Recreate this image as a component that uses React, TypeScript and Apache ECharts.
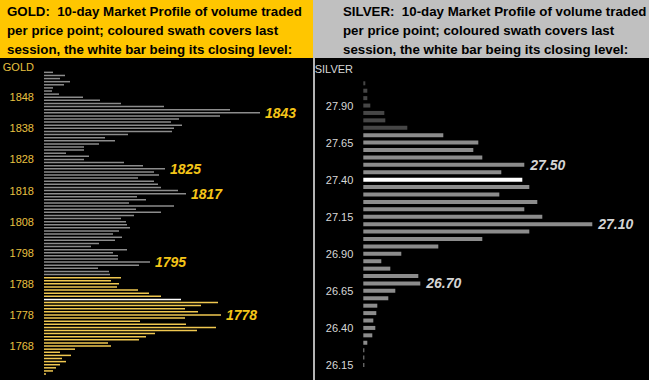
import React, { useEffect, useRef } from "react";
import * as echarts from "echarts";

// ---- GOLD (top to bottom) ----
const goldPrices = [
  "1856", "1855", "1854", "1853", "1852", "1851", "1850", "1849", "1848", "1847",
  "1846", "1845", "1844", "1843", "1842", "1841", "1840", "1839", "1838", "1837",
  "1836", "1835", "1834", "1833", "1832", "1831", "1830", "1829", "1828", "1827",
  "1826", "1825", "1824", "1823", "1822", "1821", "1820", "1819", "1818", "1817",
  "1816", "1815", "1814", "1813", "1812", "1811", "1810", "1809", "1808", "1807",
  "1806", "1805", "1804", "1803", "1802", "1801", "1800", "1799", "1798", "1797",
  "1796", "1795", "1794", "1793", "1792", "1791", "1790", "1789", "1788", "1787",
  "1786", "1785", "1784", "1783", "1782", "1781", "1780", "1779", "1778", "1777",
  "1776", "1775", "1774", "1773", "1772", "1771", "1770", "1769", "1768", "1767",
  "1766", "1765", "1764", "1763", "1762", "1761", "1760", "1759",
];
const goldVolume = [
  9, 21, 16, 26, 20, 9, 8, 15, 39, 56,
  77, 120, 186, 216, 176, 135, 127, 138, 130, 128,
  84, 61, 71, 55, 40, 40, 22, 45, 40, 80,
  99, 121, 110, 115, 94, 110, 114, 117, 134, 142,
  93, 102, 85, 130, 92, 117, 90, 77, 82, 83,
  86, 75, 69, 78, 71, 55, 47, 83, 69, 74,
  74, 106, 95, 54, 65, 66, 77, 67, 75, 73,
  94, 105, 117, 137, 174, 157, 141, 154, 177, 141,
  96, 142, 172, 153, 111, 102, 95, 64, 67, 31,
  16, 27, 18, 22, 16, 12, 9, 2,
];
const goldLabeled = ["1843", "1825", "1817", "1795", "1778"];
const goldSessionTop = 1790; // coloured swath: this price and below
const goldClose = "1783";

// ---- SILVER (top to bottom) ----
const silverPrices = [
  "28.05", "28.00", "27.95", "27.90", "27.85", "27.80", "27.75", "27.70", "27.65", "27.60",
  "27.55", "27.50", "27.45", "27.40", "27.35", "27.30", "27.25", "27.20", "27.15", "27.10",
  "27.05", "27.00", "26.95", "26.90", "26.85", "26.80", "26.75", "26.70", "26.65", "26.60",
  "26.55", "26.50", "26.45", "26.40", "26.35", "26.30", "26.25", "26.20", "26.15",
];
const silverVolume = [
  2, 4, 4, 7, 21, 22, 44, 80, 115, 110,
  119, 161, 138, 159, 166, 136, 174, 161, 179, 229,
  166, 119, 75, 38, 18, 27, 55, 57, 32, 25,
  14, 13, 10, 12, 9, 4, 1, 1, 1,
];
const silverLabeled = ["27.50", "27.10", "26.70"];
const silverDarkFrom = 27.75; // this price and above drawn dark
const silverClose = "27.40";

const FONT = "'Liberation Sans', Arial, sans-serif";

export default function App() {
  const ref = useRef<HTMLDivElement>(null);

  useEffect(() => {
    if (!ref.current) return;
    const chart = echarts.init(ref.current, undefined, { renderer: "svg" });

    const goldData = goldPrices.map((p, i) => {
      const color =
        p === goldClose ? "#ffffff" : Number(p) <= goldSessionTop ? "#f0c850" : "#8c8c8c";
      const item: any = { value: goldVolume[i], itemStyle: { color } };
      if (goldLabeled.includes(p)) item.label = { show: true, formatter: p };
      return item;
    });

    const silverData = silverPrices.map((p, i) => {
      const color =
        p === silverClose ? "#ffffff" : Number(p) >= silverDarkFrom ? "#464646" : "#8c8c8c";
      const item: any = { value: silverVolume[i], itemStyle: { color } };
      if (silverLabeled.includes(p)) item.label = { show: true, formatter: p };
      return item;
    });

    const headerFont = `bold 13.3px ${FONT}`;
    const headerLines = [
      ["GOLD:  10-day Market Profile of volume traded", "SILVER:  10-day Market Profile of volume traded"],
      ["per price point; coloured swath covers last", "per price point; coloured swath covers last"],
      ["session, the white bar being its closing level:", "session, the white bar being its closing level:"],
    ];
    const lineY = [11.5, 30.5, 49.5];
    const texts: any[] = [];
    headerLines.forEach((pair, k) => {
      texts.push({
        type: "text",
        x: 7,
        y: lineY[k],
        style: { text: pair[0], fill: "#000", font: headerFont, textVerticalAlign: "middle" },
      });
      texts.push({
        type: "text",
        x: 343,
        y: lineY[k],
        style: { text: pair[1], fill: "#000", font: headerFont, textVerticalAlign: "middle" },
      });
    });

    chart.setOption({
      animation: false,
      backgroundColor: "#000000",
      graphic: [
        { type: "rect", shape: { x: 0, y: 0, width: 313, height: 58 }, style: { fill: "#ffc600" } },
        { type: "rect", shape: { x: 313, y: 0, width: 336, height: 58 }, style: { fill: "#c0c0c0" } },
        { type: "rect", shape: { x: 313, y: 58, width: 2, height: 322 }, style: { fill: "#b4b4b4" } },
        ...texts,
        {
          type: "text",
          x: 34,
          y: 67,
          style: { text: "GOLD", fill: "#e8c040", font: `11px ${FONT}`, textAlign: "right", textVerticalAlign: "middle" },
        },
        {
          type: "text",
          x: 353,
          y: 69,
          style: { text: "SILVER", fill: "#d8d8d8", font: `11px ${FONT}`, textAlign: "right", textVerticalAlign: "middle" },
        },
      ],
      grid: [
        { left: 44, top: 70.8, width: 250, height: 304.8 },
        { left: 363.3, top: 79.6, width: 250, height: 289.1 },
      ],
      xAxis: [
        { gridIndex: 0, type: "value", min: 0, max: 250, show: false },
        { gridIndex: 1, type: "value", min: 0, max: 250, show: false },
      ],
      yAxis: [
        {
          gridIndex: 0,
          type: "category",
          data: goldPrices,
          inverse: true,
          axisLine: { show: false },
          axisTick: { show: false },
          splitLine: { show: false },
          axisLabel: {
            interval: (i: number) => i % 10 === 8,
            color: "#e8c040",
            fontSize: 11,
            fontFamily: FONT,
            margin: 10,
          },
        },
        {
          gridIndex: 1,
          type: "category",
          data: silverPrices,
          inverse: true,
          axisLine: { show: false },
          axisTick: { show: false },
          splitLine: { show: false },
          axisLabel: {
            interval: (i: number) => i % 5 === 3,
            color: "#d8d8d8",
            fontSize: 11,
            fontFamily: FONT,
            margin: 10,
          },
        },
      ],
      series: [
        {
          type: "bar",
          xAxisIndex: 0,
          yAxisIndex: 0,
          barWidth: 1.5,
          data: goldData,
          label: {
            show: false,
            position: "right",
            distance: 5,
            color: "#f5c518",
            fontSize: 14,
            fontWeight: "bold",
            fontStyle: "italic",
            fontFamily: FONT,
          },
        },
        {
          type: "bar",
          xAxisIndex: 1,
          yAxisIndex: 1,
          barWidth: 4,
          data: silverData,
          label: {
            show: false,
            position: "right",
            distance: 6,
            color: "#d4d4d4",
            fontSize: 14,
            fontWeight: "bold",
            fontStyle: "italic",
            fontFamily: FONT,
          },
        },
      ],
    });

    return () => chart.dispose();
  }, []);

  return (
    <div
      ref={ref}
      style={{ position: "fixed", left: 0, top: 0, width: 649, height: 380 }}
    />
  );
}
